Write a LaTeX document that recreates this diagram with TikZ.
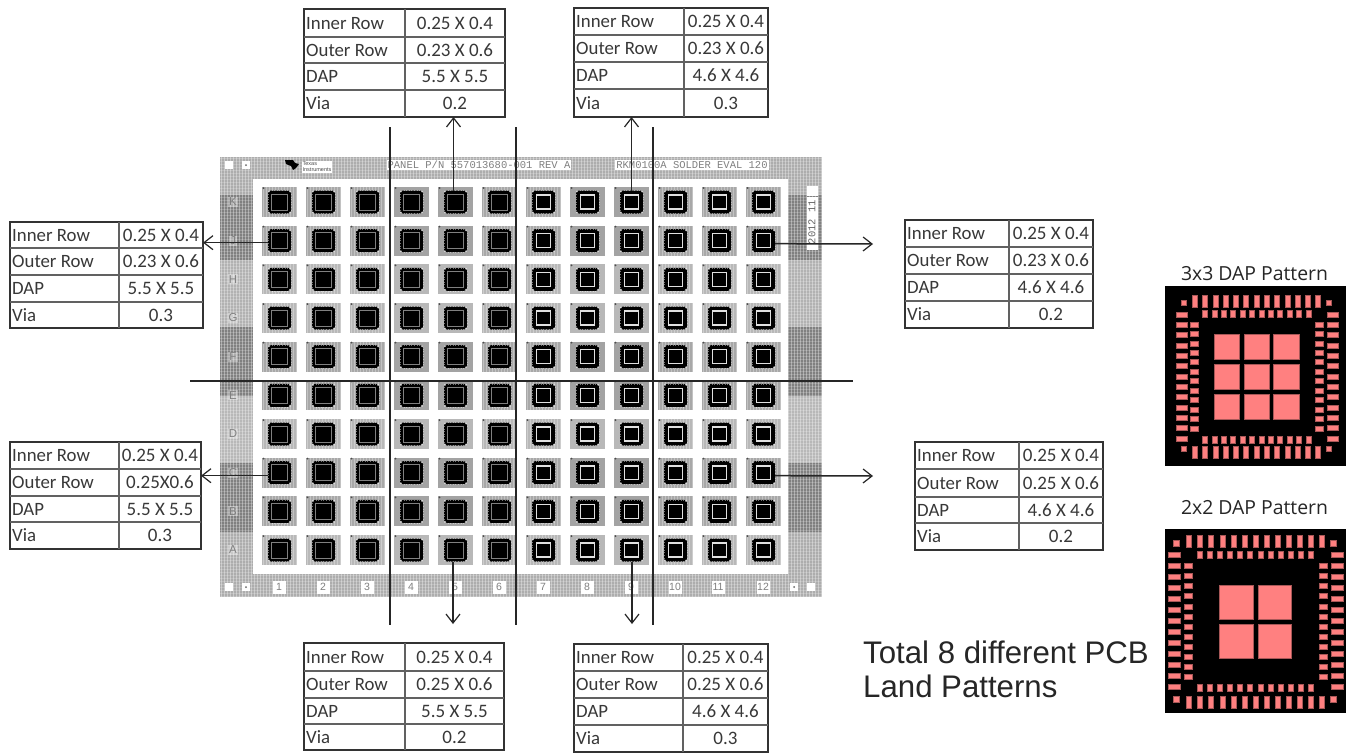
\documentclass[tikz,border=0pt]{standalone}
\usepackage{fontspec}
\setmainfont{Carlito}
\newfontfamily\arialf{Liberation Sans}
\newfontfamily\monof{Liberation Mono}
\newfontfamily\openf{Open Sans}
\usetikzlibrary{arrows.meta}
\definecolor{padpink}{HTML}{FF8080}
\definecolor{padedge}{HTML}{A85858}
\tikzset{
  tablebox/.style={draw=black!80,line width=1.7pt,fill=white,inner sep=0pt,outer sep=0pt,anchor=north west},
  tableline/.style={draw=black!62,line width=1.3pt},
  celllabel/.style={anchor=west,inner sep=0pt,font=\fontsize{18.8}{20}\selectfont,text=black!78,text height=12pt,text depth=0pt},
  cellvalue/.style={anchor=center,inner sep=0pt,font=\fontsize{19}{20}\selectfont,text=black!78,text height=12pt,text depth=0pt},
  arrowline/.style={draw=black!85,line width=1.5pt,-{Straight Barb[length=9pt,width=14pt,line width=1.2pt]}},
  cutline/.style={draw=black!85,line width=1.3pt},
  pad/.style={fill=padpink,draw=padedge,line width=.4pt},
  chipbody/.style={fill=black,rounded corners=3pt,minimum size=23pt,inner sep=0pt,outer sep=0pt},
  paneltext/.style={inner sep=1pt,fill=white,text=black!50,font=\monof\fontsize{10.5}{12}\selectfont},
  gridlabel/.style={inner sep=0pt,minimum size=13pt,fill=white,text=black!50,font=\arialf\fontsize{10.5}{11}\selectfont},
  rowlabel/.style={inner sep=1pt,fill=white,fill opacity=.35,text opacity=1,text=black!50,font=\arialf\fontsize{11.5}{12}\selectfont},
  titletext/.style={inner sep=0pt,text=black!85,font=\openf\fontsize{19.4}{21}\selectfont},
  bigtext/.style={inner sep=0pt,anchor=west,text=black!85,font=\arialf\fontsize{31.2}{33}\selectfont},
}
\begin{document}
\begin{tikzpicture}[x=1pt,y=-1pt]
\useasboundingbox (0,0) rectangle (1348,753);
\fill[white] (0,0) rectangle (1348,753);
% panel frame
\fill[black!32] (220,157) rectangle (822,597);
\foreach \ya/\yb/\tn in {157/195/32,195/260/50,260/327/30,327/396/50,396/463/28,463/532/50,532/597/32}{
  \fill[black!\tn] (220,\ya) rectangle (253,\yb);
  \fill[black!\tn] (788,\ya) rectangle (822,\yb);
}
\foreach \xx in {221,224,...,822}{\draw[white,line width=.7pt,opacity=.35] (\xx,157) -- (\xx,597);}
\foreach \yy in {158,161,...,597}{\draw[white,line width=.5pt,opacity=.2] (220,\yy) -- (822,\yy);}
\fill[white] (253,179) rectangle (788,574);
% tiles and chips
\foreach \rw in {1,...,10}{
 \foreach \cl in {1,...,12}{
  \pgfmathsetmacro\cx{279.5+44*(\cl-1)}
  \pgfmathsetmacro\cy{202+38.67*(\rw-1)}
  \pgfmathtruncatemacro\rd{{1,1,0,0,1,1,0,1,1,0}[\rw-1]}
  \pgfmathtruncatemacro\cdk{{0,0,0,1,1,0,0,1,1,0,0,0}[\cl-1]}
  \pgfmathtruncatemacro\tone{\rd*\cdk>0?36:(\rd>0?34:28)}
  \begin{scope}[shift={(\cx,\cy)}]
   \fill[black!\tone] (-17.5,-15) rectangle (17.5,15);
   \ifnum\cdk=0
    \foreach \hx in {-16,-13,...,17}{\draw[white,line width=.6pt,opacity=.3] (\hx,-15) -- (\hx,15);}
   \fi
   \fill[black!70] (-16,-14) circle (1pt);
   \node[chipbody] (chip-\rw-\cl) at (0,0) {};
   \draw[white,opacity=.45,line width=.6pt,dash pattern=on 1pt off 1.6pt] (-11.5,-8) -- (-11.5,8) (11.5,-8) -- (11.5,8) (-8,-11.5) -- (8,-11.5) (-8,11.5) -- (8,11.5);
   \foreach \sx/\sy in {-1/-1,1/-1,-1/1,1/1}{\fill[white,opacity=.8] (10.5*\sx,10.5*\sy) circle (.9pt);}
   \ifnum\cl<7
    \draw[black!50,line width=1pt] (-8,-8) rectangle (8,8);
   \else
    \draw[white!88!black,line width=1.4pt] (-6.9,-6.9) rectangle (6.9,6.9);
   \fi
  \end{scope}
 }
}
% panel labels
\foreach \xx/\tx [count=\i] in {279/1,323/2,367/3,411/4,455/5,499/6,543/7,587/8,631/9,675/10,718/11,763/12}{
  \node[gridlabel] (col-\i) at (\xx,587) {\tx};
}
\foreach \tx [count=\i] in {K,J,H,G,F,E,D,C,B,A}{
  \pgfmathsetmacro\cy{202+38.67*(\i-1)}
  \node[rowlabel] (row-\i) at (233,\cy) {\tx};
}
\node[paneltext] (panelpn) at (479,165) {PANEL P/N 557013680-001 REV A};
\node[paneltext] (panelname) at (692,165) {RKM0100A SOLDER EVAL 120};
\node[inner sep=1pt,fill=white,text=black!70,align=left,font=\arialf\fontsize{5.5}{6}\selectfont] (tiname) at (317,167) {Texas\\ Instruments};
\fill[black] (285,160) -- (293,160) -- (295,163) -- (299,164) -- (296,168) -- (293,170) -- (291,166) -- (286,164) -- cycle;
\foreach \xx/\yy [count=\i] in {229/165,229/587,811/587}{\fill[white] (\xx-4,\yy-4) rectangle (\xx+4,\yy+4);}
\foreach \xx/\yy [count=\i] in {246/165,246/587,794/587}{\fill[white] (\xx-4,\yy-4) rectangle (\xx+4,\yy+4);\fill[black!60] (\xx,\yy) circle (1pt);}
\fill[white] (807,186) rectangle (818,196);
\fill[white] (807,197) rectangle (818,250);
\node[rotate=90,inner sep=0pt,text=black!60,font=\monof\fontsize{10.5}{12}\selectfont] (paneldate) at (812,222) {2012 11};
% tables
\foreach \n/\xa/\ya/\xb/\yb/\xs/\ra/\rb/\rc/\vi/\vo/\vd/\vv in {
  T1/304/9/505/117/405/37/63/90/0.25 X 0.4/0.23 X 0.6/5.5 X 5.5/0.2,
  T2/574/8/768/117/684/35/62/89/0.25 X 0.4/0.23 X 0.6/4.6 X 4.6/0.3,
  L1/10/222/203/328/119/248/275/302/0.25 X 0.4/0.23 X 0.6/5.5 X 5.5/0.3,
  L2/10/442/201/549/119/469/496/522/0.25 X 0.4/0.25X0.6/5.5 X 5.5/0.3,
  R1/905/220/1093/328/1009/247/274/301/0.25 X 0.4/0.23 X 0.6/4.6 X 4.6/0.2,
  R2/915/442/1103/550/1019/469/497/523/0.25 X 0.4/0.25 X 0.6/4.6 X 4.6/0.2,
  B1/304/643/504/750/405/671/698/724/0.25 X 0.4/0.25 X 0.6/5.5 X 5.5/0.2,
  B2/574/644/768/752/683/671/698/725/0.25 X 0.4/0.25 X 0.6/4.6 X 4.6/0.3}{
  \pgfmathsetmacro\tw{\xb-\xa}
  \pgfmathsetmacro\th{\yb-\ya}
  \node[tablebox,minimum width=\tw pt,minimum height=\th pt] (\n) at (\xa,\ya) {};
  \draw[tableline] (\xs,\ya) -- (\xs,\yb);
  \draw[tableline] (\xa,\ra) -- (\xb,\ra);
  \draw[tableline] (\xa,\rb) -- (\xb,\rb);
  \draw[tableline] (\xa,\rc) -- (\xb,\rc);
  \pgfmathsetmacro\lx{\xa+2}
  \pgfmathsetmacro\vx{(\xs+\xb)/2}
  \pgfmathsetmacro\cya{(\ya+\ra)/2}
  \pgfmathsetmacro\cyb{(\ra+\rb)/2}
  \pgfmathsetmacro\cyc{(\rb+\rc)/2}
  \pgfmathsetmacro\cyd{(\rc+\yb)/2}
  \node[celllabel] (\n-la) at (\lx,\cya) {Inner Row};
  \node[celllabel] (\n-lb) at (\lx,\cyb) {Outer Row};
  \node[celllabel] (\n-lc) at (\lx,\cyc) {DAP};
  \node[celllabel] (\n-ld) at (\lx,\cyd) {Via};
  \node[cellvalue] (\n-va) at (\vx,\cya) {\vi};
  \node[cellvalue] (\n-vb) at (\vx,\cyb) {\vo};
  \node[cellvalue] (\n-vc) at (\vx,\cyc) {\vd};
  \node[cellvalue] (\n-vd) at (\vx,\cyd) {\vv};
}
% cut lines
\coordinate (cutA) at (390,127); \coordinate (cutAe) at (390,625);
\coordinate (cutB) at (516,127); \coordinate (cutBe) at (516,625);
\coordinate (cutC) at (653,127); \coordinate (cutCe) at (653,625);
\coordinate (cutD) at (190,381); \coordinate (cutDe) at (853,381);
\draw[cutline] (cutA) -- (cutAe);
\draw[cutline] (cutB) -- (cutBe);
\draw[cutline] (cutC) -- (cutCe);
\draw[cutline] (cutD) -- (cutDe);
% arrows
\coordinate (endR1) at (873,244);
\coordinate (endR2) at (873,476);
\coordinate (endB1) at (453,624);
\coordinate (endB2) at (632,624);
\draw[arrowline] ([xshift=-2pt]chip-1-5.north) -- ([xshift=-2pt]chip-1-5.north |- T1.south);
\draw[arrowline] (chip-1-9.north) -- (chip-1-9.north |- T2.south);
\draw[arrowline] ([yshift=-2pt]chip-2-1.west) -- ([yshift=-2pt]chip-2-1.west -| L1.east);
\draw[arrowline] ([yshift=-3pt]chip-8-1.west) -- ([yshift=-3pt]chip-8-1.west -| L2.east);
\draw[arrowline] ([yshift=-3pt]chip-2-12.east) -- (endR1);
\draw[arrowline] ([yshift=-3pt]chip-8-12.east) -- (endR2);
\draw[arrowline] (endB1 |- chip-10-5.south) -- (endB1);
\draw[arrowline] (endB2 |- chip-10-9.south) -- (endB2);
% big text
\node[bigtext] (total1) at (863,652) {Total 8 different PCB};
\node[bigtext] (total2) at (863,686) {Land Patterns};
% 3x3 pattern
\node[titletext] (title3) at (1254.5,274) {3x3 DAP Pattern};
\fill[black] (1165,286) rectangle (1346,466);
\foreach \i in {0,...,12}{
  \pgfmathsetmacro\px{1192.3+10.27*\i}
  \filldraw[pad] (\px,295.5) rectangle +(5,11.5);
  \filldraw[pad] (\px,446.3) rectangle +(5,11.5);
  \pgfmathsetmacro\py{311.8+10.33*\i}
  \filldraw[pad] (1176,\py) rectangle +(11,5);
  \filldraw[pad] (1326.7,\py) rectangle +(11,5);
}
\foreach \i in {0,...,11}{
  \pgfmathsetmacro\px{1202.5+9.39*\i}
  \filldraw[pad] (\px,310) rectangle +(5,7.5);
  \filldraw[pad] (\px,435.7) rectangle +(5,7.5);
  \pgfmathsetmacro\py{321.8+9.45*\i}
  \filldraw[pad] (1190,\py) rectangle +(7.7,5);
  \filldraw[pad] (1315,\py) rectangle +(7.7,5);
}
\foreach \px/\py in {1183.7/303,1329/303,1183.7/449,1329/449}{\filldraw[pad] (\px-2.5,\py-2.5) rectangle +(5,5);}
\foreach \px in {1214.3,1243.9,1273.4}{\foreach \py in {334,364,393.7}{\filldraw[pad] (\px,\py) rectangle +(25.3,25);}}
% 2x2 pattern
\node[titletext] (title2) at (1254.5,508) {2x2 DAP Pattern};
\fill[black] (1165,529) rectangle (1346,712.7);
\foreach \i in {0,...,12}{
  \pgfmathsetmacro\px{1186.5+11.08*\i}
  \filldraw[pad] (\px,534.7) rectangle +(5,12);
  \filldraw[pad] (\px,696.3) rectangle +(5,12);
  \pgfmathsetmacro\py{552.5+11*\i}
  \filldraw[pad] (1168,\py) rectangle +(12.3,5);
  \filldraw[pad] (1331,\py) rectangle +(12.3,5);
}
\foreach \i in {0,...,11}{
  \pgfmathsetmacro\px{1196.8+10.15*\i}
  \filldraw[pad] (\px,550.7) rectangle +(5,7.5);
  \filldraw[pad] (\px,684) rectangle +(5,7.5);
  \pgfmathsetmacro\py{563.5+10.06*\i}
  \filldraw[pad] (1184,\py) rectangle +(8,5);
  \filldraw[pad] (1318.7,\py) rectangle +(8,5);
}
\foreach \px/\py in {1176.3/543,1333/543,1176.3/699,1333/699}{\filldraw[pad] (\px-2.7,\py-2.7) rectangle +(5.4,5.4);}
\foreach \px in {1219,1257.7}{\foreach \py in {585.3,624}{\filldraw[pad] (\px,\py) rectangle +(33.8,33.8);}}
\end{tikzpicture}
\end{document}
